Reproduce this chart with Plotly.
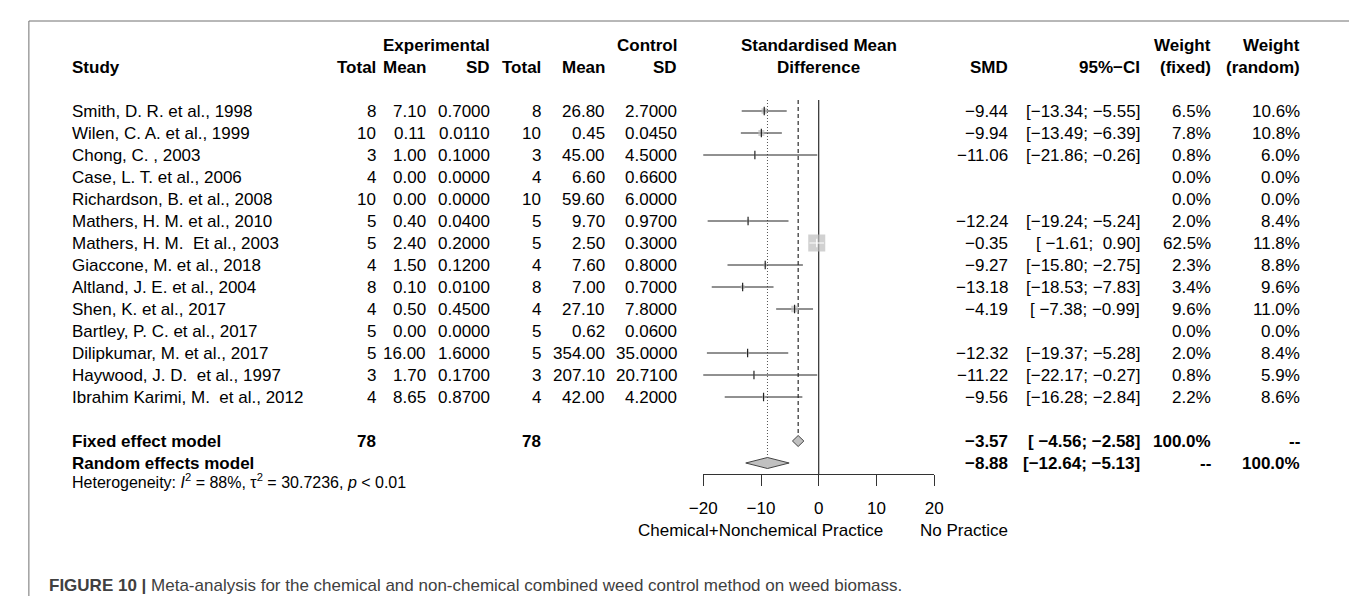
import plotly.graph_objects as go

W, H = 1357, 596

# ---------------- data ----------------
studies = [
    "Smith, D. R. et al., 1998",
    "Wilen, C. A. et al., 1999",
    "Chong, C. , 2003",
    "Case, L. T. et al., 2006",
    "Richardson, B. et al., 2008",
    "Mathers, H. M. et al., 2010",
    "Mathers, H. M.\u00a0\u00a0Et al., 2003",
    "Giaccone, M. et al., 2018",
    "Altland, J. E. et al., 2004",
    "Shen, K. et al., 2017",
    "Bartley, P. C. et al., 2017",
    "Dilipkumar, M. et al., 2017",
    "Haywood, J. D.\u00a0\u00a0et al., 1997",
    "Ibrahim Karimi, M.\u00a0\u00a0et al., 2012",
]
exp_total = [8, 10, 3, 4, 10, 5, 5, 4, 8, 4, 5, 5, 3, 4]
exp_mean = [7.10, 0.11, 1.00, 0.00, 0.00, 0.40, 2.40, 1.50, 0.10, 0.50, 0.00, 16.00, 1.70, 8.65]
exp_sd = [0.7000, 0.0110, 0.1000, 0.0000, 0.0000, 0.0400, 0.2000, 0.1200, 0.0100, 0.4500, 0.0000, 1.6000, 0.1700, 0.8700]
ctrl_total = [8, 10, 3, 4, 10, 5, 5, 4, 8, 4, 5, 5, 3, 4]
ctrl_mean = [26.80, 0.45, 45.00, 6.60, 59.60, 9.70, 2.50, 7.60, 7.00, 27.10, 0.62, 354.00, 207.10, 42.00]
ctrl_sd = [2.7000, 0.0450, 4.5000, 0.6600, 6.0000, 0.9700, 0.3000, 0.8000, 0.7000, 7.8000, 0.0600, 35.0000, 20.7100, 4.2000]
smd = [-9.44, -9.94, -11.06, None, None, -12.24, -0.35, -9.27, -13.18, -4.19, None, -12.32, -11.22, -9.56]
ci_low = [-13.34, -13.49, -21.86, None, None, -19.24, -1.61, -15.80, -18.53, -7.38, None, -19.37, -22.17, -16.28]
ci_high = [-5.55, -6.39, -0.26, None, None, -5.24, 0.90, -2.75, -7.83, -0.99, None, -5.28, -0.27, -2.84]
w_fixed = [6.5, 7.8, 0.8, 0.0, 0.0, 2.0, 62.5, 2.3, 3.4, 9.6, 0.0, 2.0, 0.8, 2.2]
w_random = [10.6, 10.8, 6.0, 0.0, 0.0, 8.4, 11.8, 8.8, 9.6, 11.0, 0.0, 8.4, 5.9, 8.6]

fixed_total_e, fixed_total_c = 78, 78
fixed_est, fixed_lo, fixed_hi = -3.57, -4.56, -2.58
random_est, random_lo, random_hi = -8.88, -12.64, -5.13
ref_value = 0
axis_ticks = [-20, -10, 0, 10, 20]
axis_range = [-20, 20]

# ---------------- layout helpers ----------------
FONT = "Liberation Sans, Arial, Helvetica, sans-serif"
FS = 17
ROW0_PX, ROW_STEP = 103, 22.0


def row_of_px(p):
    return (p - ROW0_PX) / ROW_STEP


def X(px):
    return px / W


def mfmt(v, d):
    return f"{v:.{d}f}".replace("-", "\u2212")


n = len(studies)
rows = list(range(n))
row_fixed = n + 1
row_random = n + 2
row_het = n + 3
row_h1, row_h2 = -3, -2

ann = []


def txt(xpx, row, text, anchor="right", size=FS, color="black", yref="y"):
    ann.append(dict(x=X(xpx), xref="paper", y=row, yref=yref, text=text,
                    xanchor=anchor, yanchor="middle", showarrow=False,
                    font=dict(family=FONT, size=size, color=color)))


# column right edges (px)
C_STUDY = 49
C_ET, C_EM, C_ESD = 362, 413, 478
C_CT, C_CM, C_CSD = 530, 595, 668
C_SMD, C_CI, C_WF, C_WR = 1005, 1139, 1212, 1302
PLOT_L, PLOT_R = 693, 928

# headers
txt(C_ESD, row_h1, "<b>Experimental</b>")
txt(C_CSD, row_h1, "<b>Control</b>")
txt(C_STUDY, row_h2, "<b>Study</b>", anchor="left")
for xpx, t in [(C_ET, "Total"), (C_EM, "Mean"), (C_ESD, "SD"),
               (C_CT, "Total"), (C_CM, "Mean"), (C_CSD, "SD"),
               (C_SMD, "SMD"), (C_CI, "95%\u2212CI"), (C_WF, "(fixed)"), (C_WR, "(random)")]:
    txt(xpx, row_h2, f"<b>{t}</b>")
txt(C_WF, row_h1, "<b>Weight</b>")
txt(C_WR, row_h1, "<b>Weight</b>")
txt((PLOT_L + PLOT_R) / 2, row_h1, "<b>Standardised Mean</b>", anchor="center")
txt((PLOT_L + PLOT_R) / 2, row_h2, "<b>Difference</b>", anchor="center")

# CI strings padded like R
valid_lo = [v for v in ci_low if v is not None] + [fixed_lo, random_lo]
valid_hi = [v for v in ci_high if v is not None] + [fixed_hi, random_hi]
wl = max(len(mfmt(v, 2)) for v in valid_lo)
wu = max(len(mfmt(v, 2)) for v in valid_hi)


def ci_str(lo, hi):
    a = mfmt(lo, 2)
    b = mfmt(hi, 2)
    a = "\u00a0" * (wl - len(a)) + a
    b = "\u00a0" * (wu - len(b)) + b
    return f"[{a}; {b}]"


for i in rows:
    txt(C_STUDY, i, studies[i], anchor="left")
    txt(C_ET, i, str(exp_total[i]))
    txt(C_EM, i, mfmt(exp_mean[i], 2))
    txt(C_ESD, i, mfmt(exp_sd[i], 4))
    txt(C_CT, i, str(ctrl_total[i]))
    txt(C_CM, i, mfmt(ctrl_mean[i], 2))
    txt(C_CSD, i, mfmt(ctrl_sd[i], 4))
    if smd[i] is not None:
        txt(C_SMD, i, mfmt(smd[i], 2))
        txt(C_CI, i, ci_str(ci_low[i], ci_high[i]))
    txt(C_WF, i, f"{w_fixed[i]:.1f}%")
    txt(C_WR, i, f"{w_random[i]:.1f}%")

# summary rows
txt(C_STUDY, row_fixed, "<b>Fixed effect model</b>", anchor="left")
txt(C_ET, row_fixed, f"<b>{fixed_total_e}</b>")
txt(C_CT, row_fixed, f"<b>{fixed_total_c}</b>")
txt(C_SMD, row_fixed, f"<b>{mfmt(fixed_est, 2)}</b>")
txt(C_CI, row_fixed, f"<b>{ci_str(fixed_lo, fixed_hi)}</b>")
txt(C_WF, row_fixed, "<b>100.0%</b>")
txt(C_WR, row_fixed, "<b>--</b>")
txt(C_STUDY, row_random, "<b>Random effects model</b>", anchor="left")
txt(C_SMD, row_random, f"<b>{mfmt(random_est, 2)}</b>")
txt(C_CI, row_random, f"<b>{ci_str(random_lo, random_hi)}</b>")
txt(C_WF, row_random, "<b>--</b>")
txt(C_WR, row_random, "<b>100.0%</b>")
txt(C_STUDY, row_het - 0.2,
    "Heterogeneity: <i>I</i><sup>2</sup> = 88%, \u03c4<sup>2</sup> = 30.7236, <i>p</i> &lt; 0.01",
    anchor="left", size=16)

# axis side labels
AX_PX = 466
txt(751, row_of_px(AX_PX + 56), "Chemical+Nonchemical Practice", anchor="center")
txt(958, row_of_px(AX_PX + 56), "No Practice", anchor="center")

# caption
ann.append(dict(x=X(25), xref="paper", y=1 - 577 / H, yref="paper",
                text="<b>FIGURE 10 |</b> Meta-analysis for the chemical and non-chemical combined weed control method on weed biomass.",
                xanchor="left", yanchor="middle", showarrow=False,
                font=dict(family=FONT, size=17, color="#404040")))

# ---------------- forest marks ----------------
PX_PER_UNIT = (PLOT_R - PLOT_L) / (axis_range[1] - axis_range[0])
BOX_MAX_PX = 17
box_px = [BOX_MAX_PX * (w / max(w_fixed)) ** 0.5 for w in w_fixed]

fig = go.Figure()

top_row = -0.5
bottom_row = row_of_px(AX_PX)
half_d = 0.25

# reference lines
fig.add_trace(go.Scatter(x=[ref_value, ref_value], y=[top_row, bottom_row], mode="lines",
                         line=dict(color="black", width=1), hoverinfo="skip"))
fig.add_trace(go.Scatter(x=[fixed_est, fixed_est], y=[top_row, row_fixed - half_d], mode="lines",
                         line=dict(color="black", width=1, dash="4px,3px"), hoverinfo="skip"))
fig.add_trace(go.Scatter(x=[random_est, random_est], y=[top_row, row_random - half_d], mode="lines",
                         line=dict(color="#555555", width=1, dash="1px,2px"), hoverinfo="skip"))

# CI lines
bx, by, wx, wy = [], [], [], []
for i in rows:
    if smd[i] is None:
        continue
    ci_px = (ci_high[i] - ci_low[i]) * PX_PER_UNIT
    if ci_px <= box_px[i]:
        wx += [ci_low[i], ci_high[i], None]
        wy += [i, i, None]
    else:
        bx += [ci_low[i], ci_high[i], None]
        by += [i, i, None]
fig.add_trace(go.Scatter(x=bx, y=by, mode="lines", line=dict(color="#222222", width=1),
                         hoverinfo="skip"))

# boxes
sx = [smd[i] for i in rows if smd[i] is not None]
sy = [i for i in rows if smd[i] is not None]
ss = [box_px[i] for i in rows if smd[i] is not None]
fig.add_trace(go.Scatter(x=sx, y=sy, mode="markers",
                         marker=dict(symbol="square", size=ss, color="#bdbdbd", line=dict(width=0)),
                         hoverinfo="skip"))
fig.add_trace(go.Scatter(x=wx, y=wy, mode="lines", line=dict(color="white", width=1),
                         hoverinfo="skip"))

# estimate ticks
tk_b = [(smd[i], i) for i in rows if smd[i] is not None and (ci_high[i] - ci_low[i]) * PX_PER_UNIT > box_px[i]]
tk_w = [(smd[i], i) for i in rows if smd[i] is not None and (ci_high[i] - ci_low[i]) * PX_PER_UNIT <= box_px[i]]
fig.add_trace(go.Scatter(x=[a for a, b in tk_b], y=[b for a, b in tk_b], mode="markers",
                         marker=dict(symbol="line-ns", size=6, line=dict(color="#222222", width=1.2)),
                         hoverinfo="skip"))
fig.add_trace(go.Scatter(x=[a for a, b in tk_w], y=[b for a, b in tk_w], mode="markers",
                         marker=dict(symbol="line-ns", size=6, line=dict(color="white", width=1.2)),
                         hoverinfo="skip"))

# diamonds
for est, lo, hi, r in [(fixed_est, fixed_lo, fixed_hi, row_fixed),
                       (random_est, random_lo, random_hi, row_random)]:
    fig.add_trace(go.Scatter(x=[lo, est, hi, est, lo], y=[r, r - half_d, r, r + half_d, r],
                             mode="lines", fill="toself", fillcolor="#c0c0c0",
                             line=dict(color="#444444", width=1), hoverinfo="skip"))

# frame
shapes = [dict(type="rect", xref="paper", yref="paper", x0=X(7), x1=X(1351),
               y0=-0.05, y1=1 - 13 / H, line=dict(color="#707070", width=1))]

fig.update_layout(
    width=W, height=H, margin=dict(l=0, r=0, t=0, b=0),
    paper_bgcolor="white", plot_bgcolor="rgba(0,0,0,0)",
    showlegend=False, annotations=ann, shapes=shapes,
    xaxis=dict(domain=[X(PLOT_L), X(PLOT_R)], range=axis_range, anchor="free",
               position=1 - AX_PX / H, showline=True, linecolor="#333333", linewidth=1,
               ticks="outside", ticklen=11, tickwidth=1, tickcolor="#333333",
               tickvals=axis_ticks, ticktext=[mfmt(v, 0) for v in axis_ticks],
               tickfont=dict(family=FONT, size=FS, color="black"),
               ticklabelstandoff=8,
               showgrid=False, zeroline=False, fixedrange=True),
    yaxis=dict(domain=[0, 1], range=[row_of_px(H), row_of_px(0)], visible=False,
               showgrid=False, zeroline=False, fixedrange=True),
)

fig.write_html("out.html")
